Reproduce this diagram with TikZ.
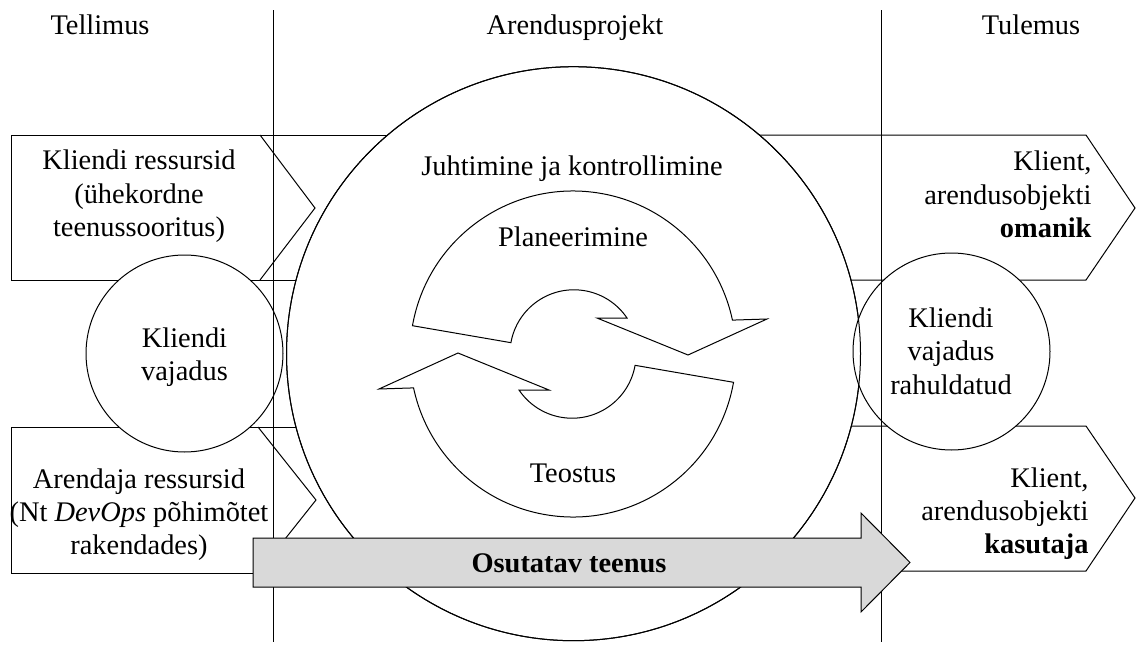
\documentclass[tikz,border=0pt]{standalone}
\usepackage{fontspec}
\setmainfont{Liberation Serif}
\definecolor{arrowgray}{RGB}{217,217,217}
\tikzset{every picture/.style={line width=0.75pt}}

\begin{document}
\begin{tikzpicture}[x=0.75pt,y=0.75pt,yscale=-1,xscale=1,
  every node/.style={font=\fontsize{21.3}{25}\selectfont}]
\useasboundingbox (0,0) rectangle (1136,646);
% bands on the left
\draw (520,135) -- (11,135) -- (11,280) -- (520,280);
\draw (520,427) -- (11,427) -- (11,573) -- (520,573);
\draw (260,135) -- (315,208) -- (260,280);
\draw (258,427) -- (316,500) -- (258,573);
% bands on the right
\draw (630,135) -- (1086,135) -- (1135,208) -- (1086,280) -- (630,280);
\draw (630,426) -- (1086,426) -- (1135,498) -- (1086,571) -- (630,571);
% project and need circles
\draw[fill=white] (573.5,353.7) circle (287);
\draw[fill=white] (184.5,353.5) circle (98.5);
\draw[fill=white] (951.5,351.5) circle (98.5);
\draw (573.5,353.7) circle (287);
% cycle
\draw[fill=white] (573,354) ++(-170:163) arc[start angle=-170,end angle=-12,radius=163]
  -- (767,319) -- (688,355) -- (597,318) -- (627,318)
  arc[start angle=-34,end angle=-170,radius=64] -- cycle;
\draw[fill=white] (573,354) ++(10:163) arc[start angle=10,end angle=168,radius=163]
  -- (379,389) -- (458,353) -- (549,390) -- (519,390)
  arc[start angle=146,end angle=10,radius=64] -- cycle;
% columns
\draw (273,10) -- (273,642);
\draw (881,10) -- (881,642);
% service arrow
\draw[fill=arrowgray] (253,538) -- (861,538) -- (861,513) -- (910,562.5)
  -- (861,612) -- (861,587) -- (253,587) -- cycle;
\node[anchor=base] (teenus) at (569,572) {\bfseries Osutatav teenus};
% headings
\node[anchor=base] (tellimus) at (100,35) {Tellimus};
\node[anchor=base] (arendus) at (575,35) {Arendusprojekt};
\node[anchor=base] (tulemus) at (1031,35) {Tulemus};
% texts
\node[align=center] (kliendires) at (139,196.5) {Kliendi ressursid\\(ühekordne\\teenussooritus)};
\node[align=center] (arendajares) at (139,514.5) {Arendaja ressursid\\(Nt \textit{DevOps} põhimõtet\\rakendades)};
\node[align=center] (vajadus) at (184.5,357) {Kliendi\\vajadus};
\node[align=center] (rahuldatud) at (951,351) {Kliendi\\vajadus\\rahuldatud};
\node[align=right,anchor=east,inner sep=0] (omanik) at (1092,194.5) {Klient,\\arendusobjekti\\\textbf{omanik}};
\node[align=right,anchor=east,inner sep=0] (kasutaja) at (1089,513.5) {Klient,\\arendusobjekti\\\textbf{kasutaja}};
\node[anchor=base] (juhtimine) at (572,175) {Juhtimine ja kontrollimine};
\node[anchor=base] (planeerimine) at (573,246) {Planeerimine};
\node[anchor=base] (teostus) at (573,482) {Teostus};
\end{tikzpicture}
\end{document}
